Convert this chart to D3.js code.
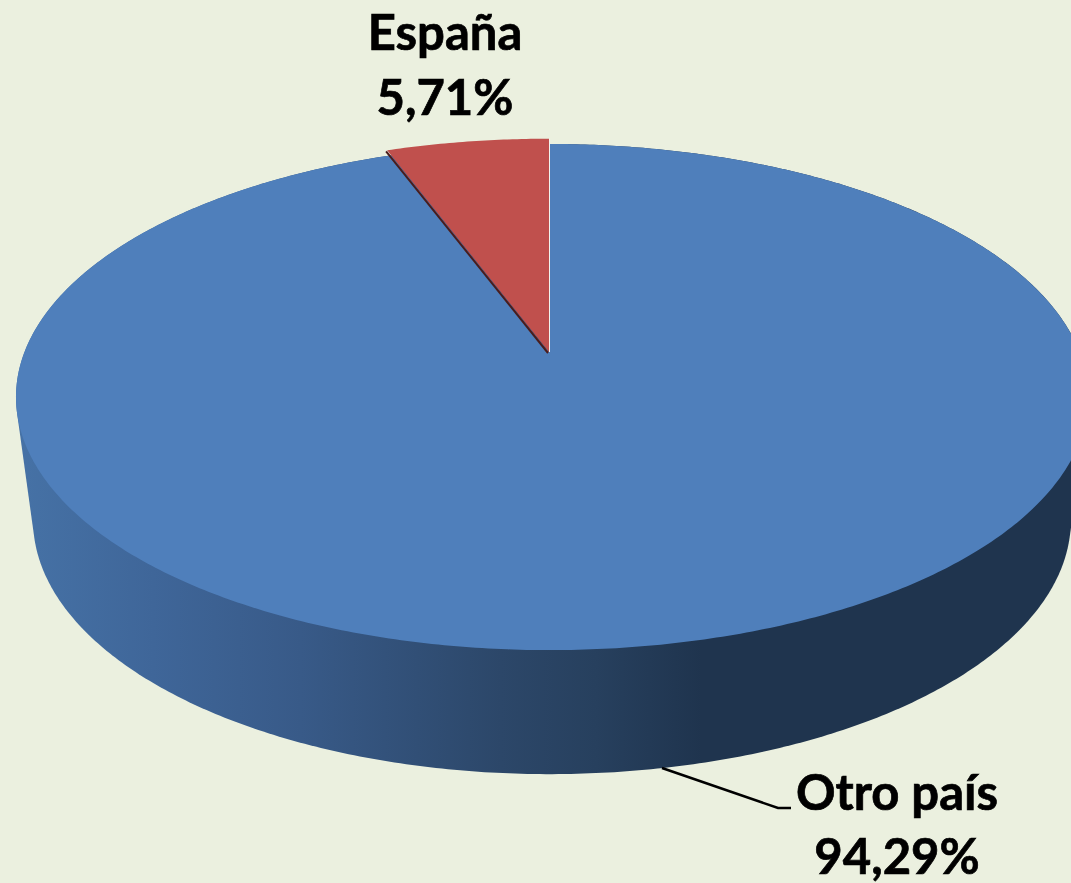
<!DOCTYPE html>
<html>
<head>
<meta charset="utf-8">
<script src="https://d3js.org/d3.v7.min.js"></script>
<style>
  html, body { margin: 0; padding: 0; background: #ebf0df; overflow: hidden; }
  text { font-family: Lato, "Open Sans", sans-serif; font-weight: 700; fill: #000; stroke: #000; stroke-width: 0.7; }
</style>
</head>
<body>
<div id="chart"></div>
<script>
// Data
const categories = ["Otro país", "España"];
const shares = [94.29, 5.71];
const shareLabels = ["94,29%", "5,71%"];
const sliceColors = ["#4f7fbb", "#c0504d"];

const width = 1071, height = 883;

const svg = d3.select("#chart")
    .append("svg")
    .attr("width", width)
    .attr("height", height);

// Side wall colour, left to right
const wallX = d3.scaleLinear().domain([0, 1]).range([16, 1071]);
const wallStops = [
    [0, "#4672a6"], [0.13, "#3f6699"], [0.27, "#385a88"], [0.46, "#2c4769"],
    [0.55, "#27405e"], [0.65, "#1f344e"], [1, "#1f344e"]
];
const grad = svg.append("defs").append("linearGradient")
    .attr("id", "wall")
    .attr("gradientUnits", "userSpaceOnUse")
    .attr("x1", wallX(0)).attr("x2", wallX(1))
    .attr("y1", 0).attr("y2", 0);
grad.selectAll("stop").data(wallStops).join("stop")
    .attr("offset", d => d[0])
    .attr("stop-color", d => d[1]);

// The tilted disc: a flat circle put through a perspective projection
const apex = {x: 549, y: 352};
const persp = 0.178, depthY = 182.4, spreadLeft = 524.5, spreadRight = 530.5;

function project(angle, r) {
    const u = Math.sin(angle) * r, v = -Math.cos(angle) * r;
    const w = 1 - persp * v;
    return [
        apex.x + (u < 0 ? spreadLeft : spreadRight) * u / w,
        (apex.y + depthY * v) / w
    ];
}

function rim(a0, a1, r) {
    const n = Math.ceil(Math.abs(a1 - a0) / 0.01);
    return d3.range(n + 1).map(i => project(a0 + (a1 - a0) * i / n, r));
}

const line = d3.line();
const pie = d3.pie().sort(null)(shares);

// Side wall: hull of the top rim and the lower rim
const lowerRim = rim(0, 2 * Math.PI, 1).map(p => [
    549 + (p[0] - 549) * 0.968,
    397 + (p[1] - 397) * 1.004 + 123
]);
svg.append("path")
    .attr("d", line(d3.polygonHull(rim(0, 2 * Math.PI, 1).concat(lowerRim))) + "Z")
    .attr("fill", "url(#wall)");

// Leader line for the big slice
svg.append("path")
    .attr("d", line([[662, 768], [778, 808], [791, 808]]))
    .attr("fill", "none")
    .attr("stroke", "#000")
    .attr("stroke-width", 2.5);

// Top faces
svg.selectAll("path.slice")
    .data(pie)
    .join("path")
    .attr("class", "slice")
    .attr("d", d => {
        const pulled = d.index === 1 ? 1.03 : 1;
        return line([[apex.x, apex.y]].concat(rim(d.startAngle, d.endAngle, pulled))) + "Z";
    })
    .attr("fill", d => sliceColors[d.index]);

// Dark cut edge and light seam of the small slice
const red = pie[1];
svg.append("path")
    .attr("d", line([project(red.startAngle, 1.03), [apex.x, apex.y]]))
    .attr("transform", "translate(-1,1)")
    .attr("fill", "none")
    .attr("stroke", "#4a1c1b")
    .attr("stroke-width", 2);
svg.append("path")
    .attr("d", line([project(0, 1.03), [apex.x, apex.y]]))
    .attr("transform", "translate(0.5,0)")
    .attr("fill", "none")
    .attr("stroke", "#f2f4ee")
    .attr("stroke-width", 1);

// Labels
const labelSpots = [
    {x: 897, y1: 810, y2: 874},
    {x: 445, y1: 50, y2: 115}
];
categories.forEach((name, i) => {
    svg.append("text")
        .attr("x", labelSpots[i].x).attr("y", labelSpots[i].y1)
        .attr("text-anchor", "middle").attr("font-size", 49)
        .text(name);
    svg.append("text")
        .attr("x", labelSpots[i].x).attr("y", labelSpots[i].y2)
        .attr("text-anchor", "middle").attr("font-size", 49)
        .text(shareLabels[i]);
});
</script>
</body>
</html>
